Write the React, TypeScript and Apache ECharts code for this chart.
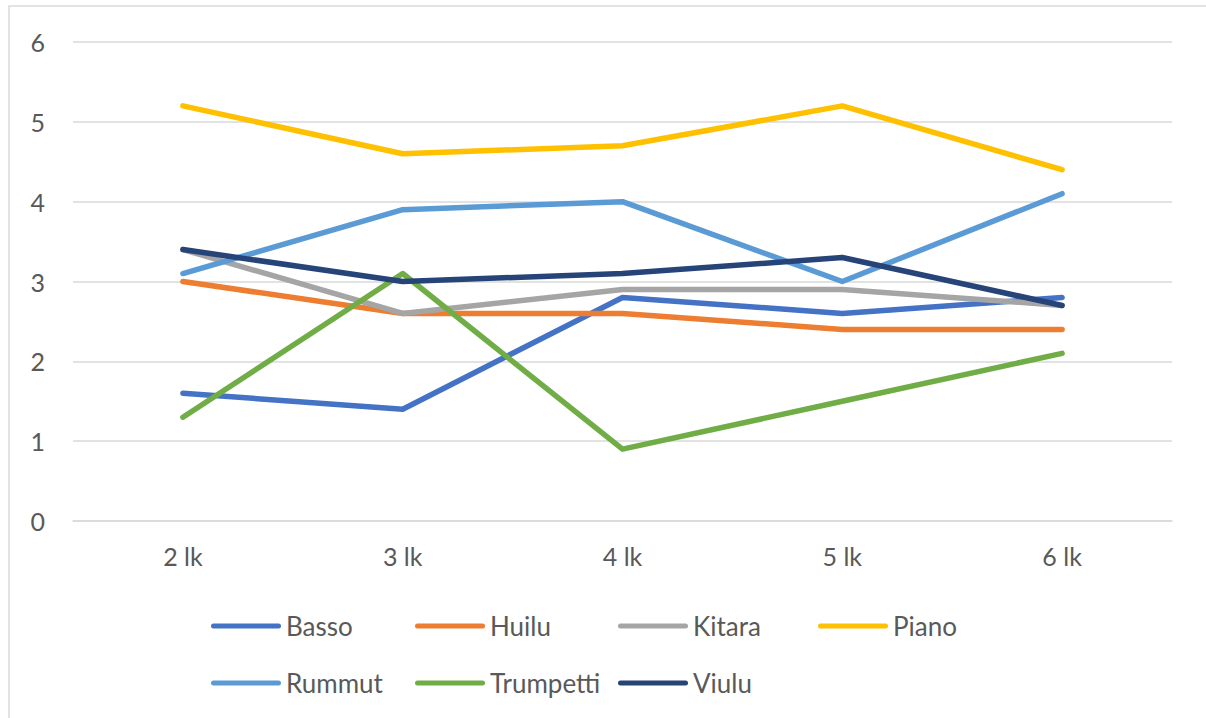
import React, { useEffect, useRef } from "react";
import * as echarts from "echarts";

const categories = ["2 lk", "3 lk", "4 lk", "5 lk", "6 lk"];
const seriesNames = ["Basso", "Huilu", "Kitara", "Piano", "Rummut", "Trumpetti", "Viulu"];
const basso = [1.6, 1.4, 2.8, 2.6, 2.8];
const huilu = [3.0, 2.6, 2.6, 2.4, 2.4];
const kitara = [3.4, 2.6, 2.9, 2.9, 2.7];
const piano = [5.2, 4.6, 4.7, 5.2, 4.4];
const rummut = [3.1, 3.9, 4.0, 3.0, 4.1];
const trumpetti = [1.3, 3.1, 0.9, 1.5, 2.1];
const viulu = [3.4, 3.0, 3.1, 3.3, 2.7];
const seriesValues = [basso, huilu, kitara, piano, rummut, trumpetti, viulu];
const colors = ["#4472C4", "#ED7D31", "#A5A5A5", "#FFC000", "#5B9BD5", "#70AD47", "#264478"];

const legendPos = [
  { left: 211, top: 611 },
  { left: 415, top: 611 },
  { left: 618, top: 611 },
  { left: 818, top: 611 },
  { left: 211, top: 668 },
  { left: 415, top: 668 },
  { left: 618, top: 668 },
];

const FONT = "Lato";
const TEXT = "#595959";
const GRID = "#D9D9D9";

export default function App() {
  const ref = useRef<HTMLDivElement>(null);
  useEffect(() => {
    if (!ref.current) return;
    const chart = echarts.init(ref.current, undefined, { renderer: "svg" });
    const capsule = "path://M2.5,0 H67.5 A2.5,2.5 0 0 1 67.5,5 H2.5 A2.5,2.5 0 0 1 2.5,0 Z";
    chart.setOption({
      animation: false,
      backgroundColor: "#ffffff",
      textStyle: { fontFamily: FONT },
      graphic: [
        {
          type: "rect",
          shape: { x: 9, y: 6, width: 1210, height: 730 },
          style: { fill: "none", stroke: GRID, lineWidth: 1.5 },
          silent: true,
        },
      ],
      grid: { left: 73, right: 34, top: 42, bottom: 197, containLabel: false },
      legend: seriesNames.map((n, i) => ({
        data: [n],
        left: legendPos[i].left,
        top: legendPos[i].top,
        padding: 0,
        icon: capsule,
        itemWidth: 70,
        itemHeight: 5,
        textStyle: { color: TEXT, fontSize: 26, fontFamily: FONT, lineHeight: 30 },
        selectedMode: false,
      })),
      xAxis: {
        type: "category",
        data: categories,
        boundaryGap: true,
        axisLine: { show: true, lineStyle: { color: GRID, width: 1.5 } },
        axisTick: { show: false },
        axisLabel: { color: TEXT, fontSize: 25, fontFamily: FONT, margin: 22 },
      },
      yAxis: {
        type: "value",
        min: 0,
        max: 6,
        interval: 1,
        axisLine: { show: false },
        axisTick: { show: false },
        splitLine: { lineStyle: { color: GRID, width: 1.5 } },
        axisLabel: { color: TEXT, fontSize: 25, fontFamily: FONT, margin: 28 },
      },
      series: seriesNames.map((n, i) => ({
        name: n,
        type: "line",
        data: seriesValues[i],
        symbol: "none",
        color: colors[i],
        itemStyle: { color: colors[i] },
        lineStyle: { color: colors[i], width: 5.5, cap: "round", join: "round" },
      })),
    });
    return () => chart.dispose();
  }, []);
  return (
    <div
      ref={ref}
      style={{ position: "absolute", left: 0, top: 0, width: 1206, height: 718 }}
    />
  );
}
